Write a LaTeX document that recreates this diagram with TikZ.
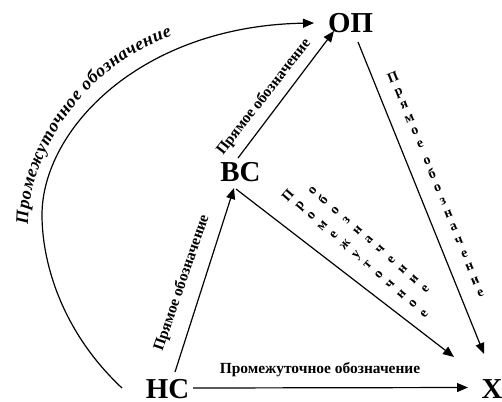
\documentclass[tikz,border=0pt]{standalone}
\usepackage{fontspec}
\setmainfont{Liberation Serif}
\usetikzlibrary{arrows.meta,decorations.text}
\begin{document}
\begin{tikzpicture}[x=1bp,y=-1bp,
  big/.style={font=\fontsize{29}{30}\selectfont\bfseries, inner sep=0pt},
  lbl/.style={font=\fontsize{15.5}{17}\selectfont\bfseries, inner sep=0pt},
  stack/.style={font=\fontsize{14}{14.3}\selectfont\bfseries, inner sep=0pt, align=center},
  stackb/.style={font=\fontsize{14}{15}\selectfont\bfseries, inner sep=0pt, align=center},
  conn/.style={line width=1.2bp, -{Triangle[length=11bp,width=9bp]}},
]
\useasboundingbox (0,0) rectangle (502,401);
\node[big] (OP) at (350.5,23.5) {ОП};
\node[big] (VS) at (240.5,172.5) {ВС};
\node[big] (NS) at (167.5,389) {НС};
\node[big] (X)  at (492,389) {Х};

% connectors
\draw[conn] ([shift={(25.5,-1)}]NS.center) -- ([shift={(-24,-1.5)}]X.center);
\draw[conn] ([shift={(7.5,-17)}]NS.center) -- ([shift={(-6.5,15.5)}]VS.center);
\draw[conn] ([shift={(-2.5,-14.5)}]VS.center) -- ([shift={(-16.5,7.5)}]OP.center);
\draw[conn] ([shift={(-4.5,16.5)}]VS.center) -- ([shift={(-38,-32)}]X.center);
\draw[conn] ([shift={(7.5,18.5)}]OP.center) -- ([shift={(-8,-35)}]X.center);
\draw[conn] ([shift={(-45.5,-1)}]NS.center) .. controls (60,330) and (42,260) .. (42,215)
   .. controls (42,130) and (140,26) .. ([shift={(-36.5,-0.5)}]OP.center);

% curved label
\path[decorate, decoration={text along path,
   text={|\fontsize{18}{20}\selectfont\bfseries\itshape|Промежуточное обозначение},
   text align={fit to path}}]
   (28,224) .. controls (28,155) and (85,65) .. (172,36);

% straight labels
\node[lbl, rotate=71] (l1) at (182,283) {Прямое обозначение};
\node[lbl, rotate=52] (l2) at (264,97) {Прямое обозначение};
\node[lbl, anchor=base] (l3) at (320,373.5) {Промежуточное обозначение};

% stacked labels
\node[stack, rotate=22] (l4) at (436.5,185)
  {П\\р\\я\\м\\о\\е\\[4bp]о\\б\\о\\з\\н\\а\\ч\\е\\н\\и\\е};
\node[stackb, rotate=49] (l5) at (355.5,254)
  {П\\р\\о\\м\\е\\ж\\у\\т\\о\\ч\\н\\о\\е};
\node[stackb, rotate=49] (l6) at (369,240)
  {о\\б\\о\\з\\н\\а\\ч\\е\\н\\и\\е};
\end{tikzpicture}
\end{document}
